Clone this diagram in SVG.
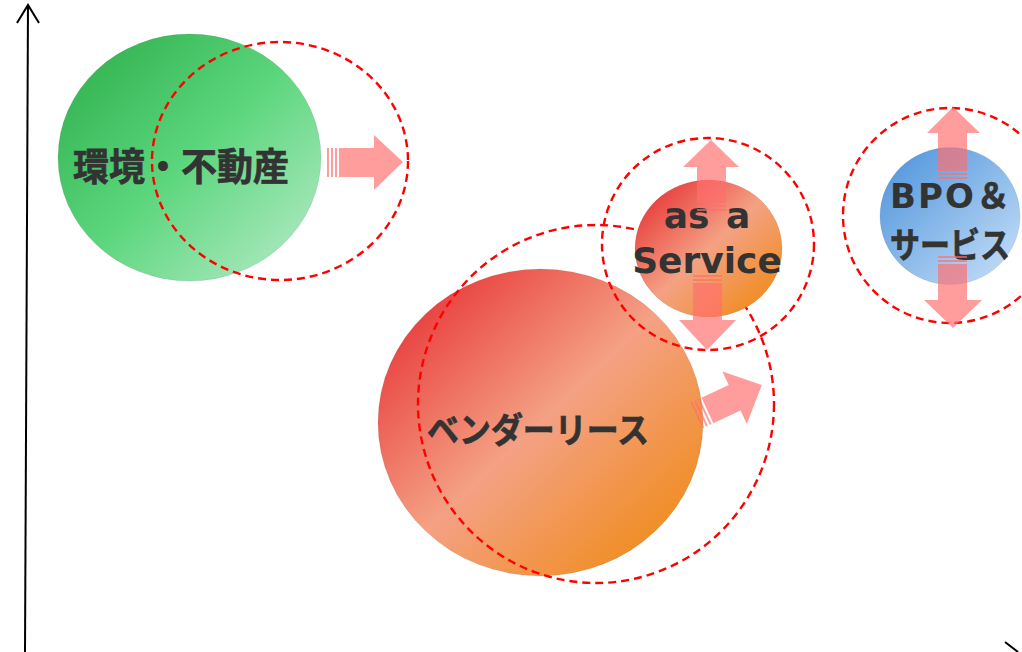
<svg xmlns="http://www.w3.org/2000/svg" width="1022" height="652" viewBox="0 0 1022 652">
<defs>
<linearGradient id="gGreen" x1="0.1" y1="0.1" x2="0.9" y2="0.9">
<stop offset="0" stop-color="#34b452"/>
<stop offset="0.5" stop-color="#5cd67d"/>
<stop offset="1" stop-color="#a9e8bd"/>
</linearGradient>
<linearGradient id="gRed" x1="0.1" y1="0.1" x2="0.9" y2="0.9">
<stop offset="0" stop-color="#e83a3a"/>
<stop offset="0.5" stop-color="#f4a184"/>
<stop offset="1" stop-color="#f08c1c"/>
</linearGradient>
<linearGradient id="gBlue" x1="0.1" y1="0.1" x2="0.9" y2="0.9">
<stop offset="0" stop-color="#5699de"/>
<stop offset="1" stop-color="#bedaf5"/>
</linearGradient>
<style>
.bubble{stroke:#000;stroke-opacity:0.08;stroke-width:1}
.dash{fill:none;stroke:#ff0000;stroke-width:2.4;stroke-dasharray:8 5}
.arr{fill:#ff6f6f;fill-opacity:0.68}
.lbl{fill:#333333;font-weight:bold;text-anchor:middle}
.jp{font-family:"Noto Sans CJK JP","Noto Sans",sans-serif;stroke:#333333;stroke-width:0.7}
.en{font-family:"DejaVu Sans","Noto Sans CJK JP",sans-serif}
.axis{fill:none;stroke:#000;stroke-width:2}
</style>
</defs>
<rect width="1022" height="652" fill="#ffffff"/>
<g id="axes">
<line class="axis" x1="25" y1="652" x2="28" y2="5"/>
<polyline class="axis" points="17,23 28,5 39,23"/>
<line class="axis" x1="1005" y1="642" x2="1018" y2="652"/>
</g>
<g id="node-green">
<ellipse class="bubble" cx="189.5" cy="157.5" rx="131.5" ry="123.5" fill="url(#gGreen)"/>
<text class="lbl jp" x="181" y="180" font-size="38" textLength="216" lengthAdjust="spacingAndGlyphs">環境・不動産</text>
<ellipse class="dash" cx="280" cy="161" rx="128" ry="119"/>
</g>
<g id="node-vendor">
<ellipse class="bubble" cx="540.5" cy="422.5" rx="162.5" ry="153.5" fill="url(#gRed)"/>
<text class="lbl jp" x="538" y="443" font-size="35" textLength="222" lengthAdjust="spacingAndGlyphs">ベンダーリース</text>
<ellipse class="dash" cx="596" cy="404" rx="178" ry="179"/>
</g>
<g id="node-service">
<ellipse class="bubble" cx="708.5" cy="248.5" rx="73.5" ry="68.5" fill="url(#gRed)"/>
<text class="lbl en" x="707" y="228" font-size="36" word-spacing="4">as a</text>
<text class="lbl en" x="707" y="273" font-size="36">Service</text>
<ellipse class="dash" cx="708" cy="244" rx="106" ry="106"/>
</g>
<g id="node-bpo">
<ellipse class="bubble" cx="950" cy="216" rx="70" ry="68.5" fill="url(#gBlue)"/>
<text class="lbl jp" x="950" y="208" font-size="34" textLength="120" lengthAdjust="spacing"><tspan class="en" font-size="34" stroke-width="0">BPO</tspan>＆</text>
<text class="lbl jp" x="950" y="258" font-size="35" textLength="120" lengthAdjust="spacingAndGlyphs">サービス</text>
<ellipse class="dash" cx="950" cy="215.5" rx="107" ry="107.5"/>
</g>
<g id="connectors">
<g id="arrow-green">
<rect class="arr" x="327" y="148" width="2" height="29"/>
<rect class="arr" x="331" y="148" width="2" height="29"/>
<rect class="arr" x="335" y="148" width="2" height="29"/>
<path class="arr" d="M339,148 H374 V135 L403,162 L374,190 V177 H339 Z"/>
</g>
<g id="arrow-vendor" transform="rotate(-25 702 413)">
<rect class="arr" x="696" y="399" width="2" height="28"/>
<rect class="arr" x="700" y="399" width="2" height="28"/>
<rect class="arr" x="704" y="399" width="2" height="28"/>
<path class="arr" d="M708,399 H738 V384 L768,413 L738,442 V427 H708 Z"/>
</g>
<g id="arrow-service-up">
<path class="arr" d="M697,203 V167 H683 L711,140 L739,167 H726 V203 Z"/>
<rect class="arr" x="697" y="205" width="29" height="2"/>
<rect class="arr" x="697" y="209" width="29" height="2"/>
</g>
<g id="arrow-service-down">
<rect class="arr" x="693" y="275" width="29" height="2"/>
<rect class="arr" x="693" y="279" width="29" height="2"/>
<path class="arr" d="M693,283 V320 H679 L707,350 L736,320 H722 V283 Z"/>
</g>
<g id="arrow-bpo-up">
<path class="arr" d="M938,171 V133 H927 L953,107 L980,133 H967 V171 Z"/>
<rect class="arr" x="938" y="173" width="29" height="2"/>
<rect class="arr" x="938" y="177" width="29" height="2"/>
</g>
<g id="arrow-bpo-down">
<rect class="arr" x="938" y="256" width="29" height="2"/>
<rect class="arr" x="938" y="260" width="29" height="2"/>
<path class="arr" d="M938,264 V300 H924 L953,328 L982,300 H967 V264 Z"/>
</g>
</g>
</svg>
